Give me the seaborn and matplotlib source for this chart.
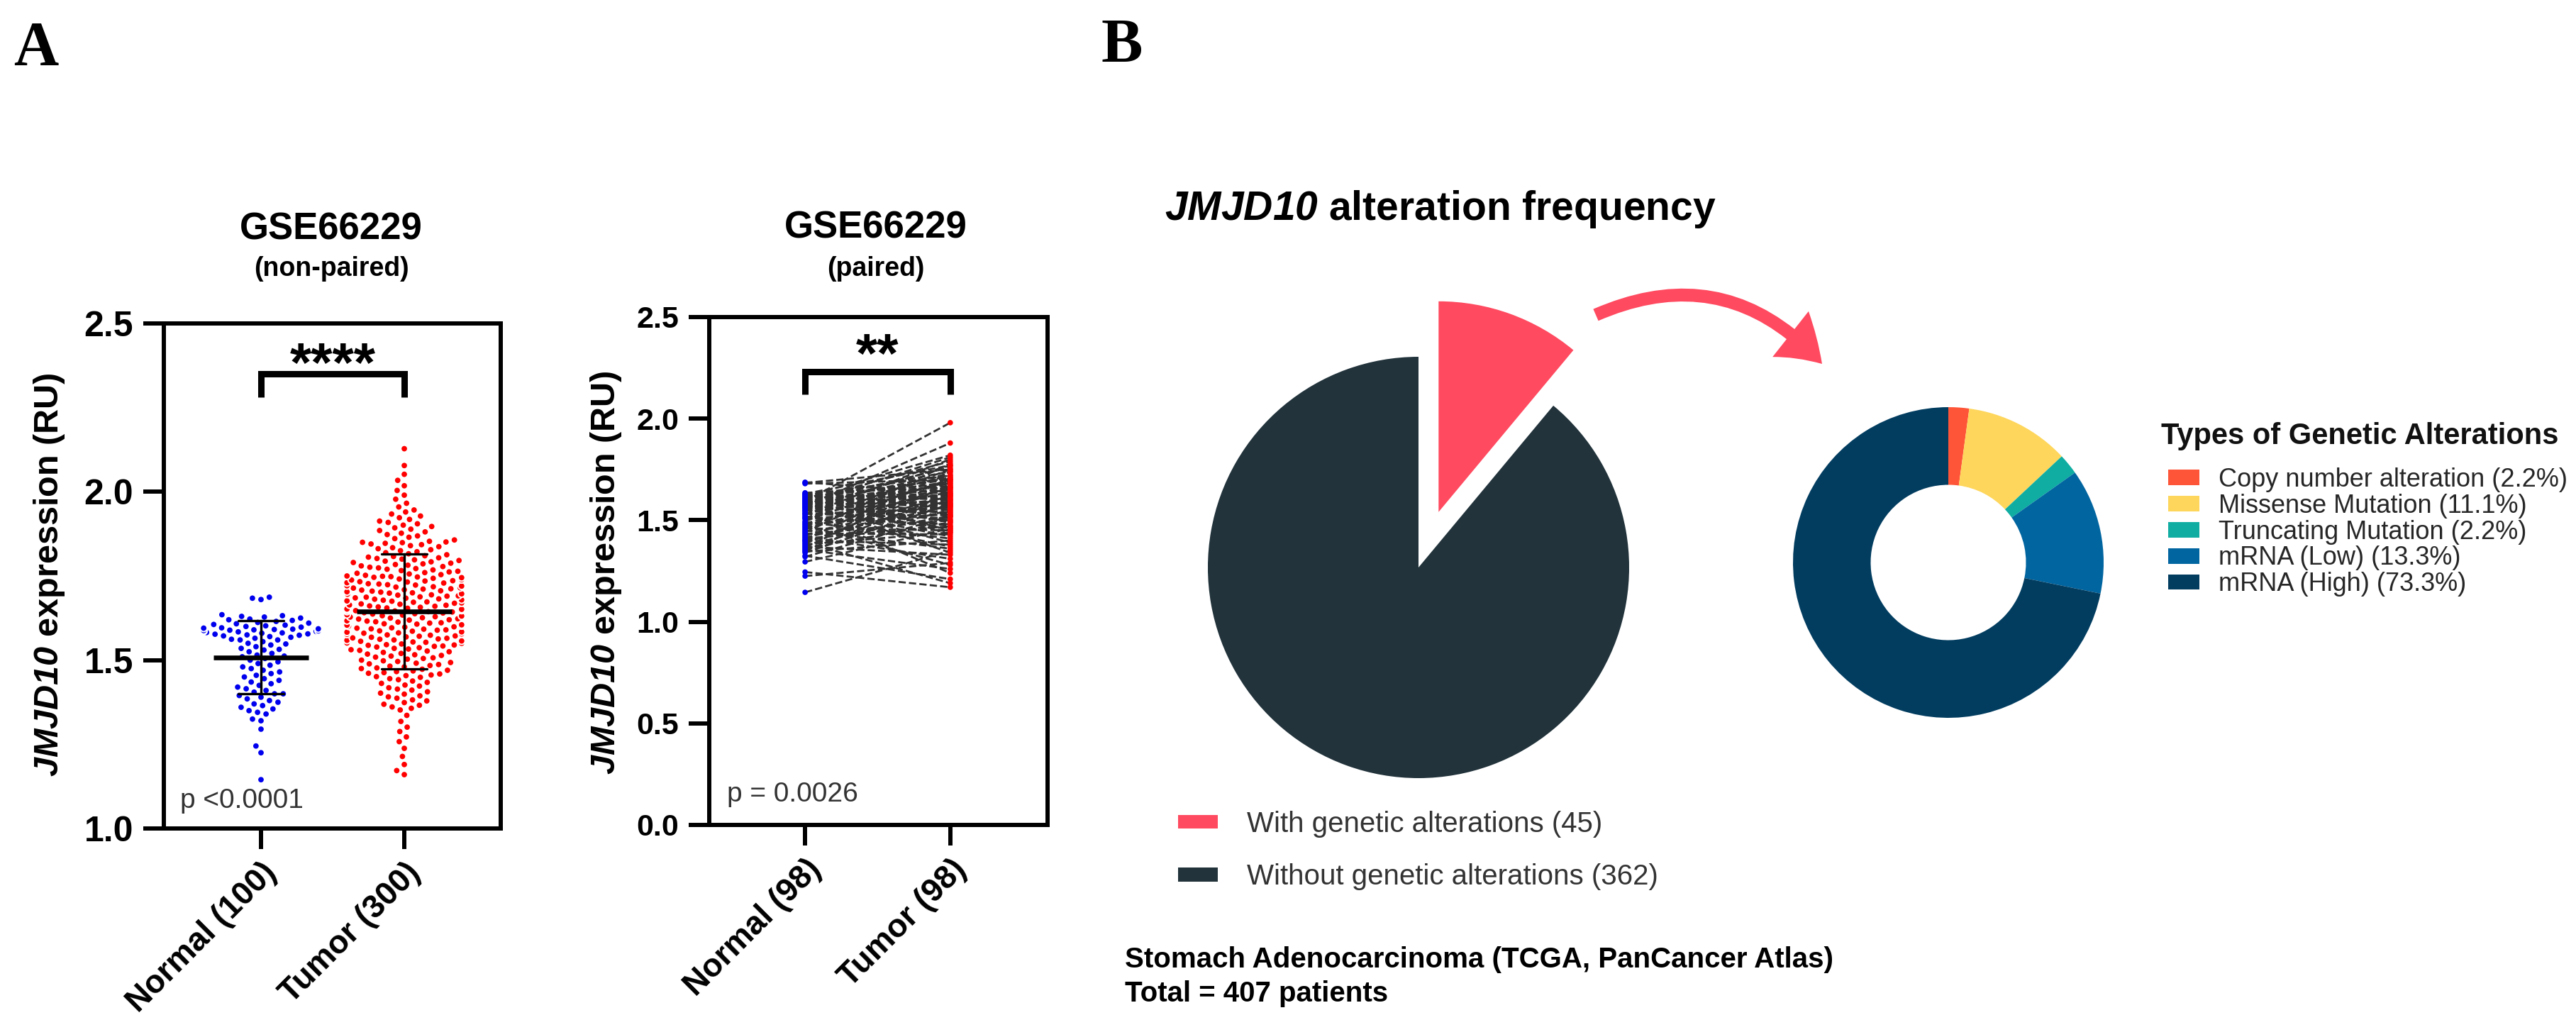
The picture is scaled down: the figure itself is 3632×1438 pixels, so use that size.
import numpy as np
import pandas as pd
import matplotlib
matplotlib.use("Agg")
import matplotlib.pyplot as plt
from matplotlib.patches import FancyArrowPatch
import seaborn as sns

sns.set_style("ticks")
plt.rcParams['font.family'] = ['Liberation Sans', 'DejaVu Sans']
plt.rcParams['mathtext.fontset'] = 'custom'
plt.rcParams['mathtext.it'] = 'Liberation Sans:italic:bold'
plt.rcParams['mathtext.rm'] = 'Liberation Sans:italic:bold'
plt.rcParams['text.color'] = 'black'
plt.rcParams['axes.labelcolor'] = 'black'
plt.rcParams['xtick.color'] = 'black'
plt.rcParams['ytick.color'] = 'black'

# ---------------- data ----------------
unpaired_groups = ['Normal (100)', 'Tumor (300)']
paired_groups = ['Normal (98)', 'Tumor (98)']

normal_unpaired = [
    1.145, 1.225, 1.245, 1.295, 1.32, 1.325, 1.34, 1.345, 1.35, 1.355,
    1.36, 1.365, 1.37, 1.375, 1.38, 1.385, 1.39, 1.395, 1.40, 1.40,
    1.405, 1.41, 1.415, 1.42, 1.425, 1.43, 1.435, 1.44, 1.445, 1.45,
    1.455, 1.46, 1.465, 1.47, 1.475, 1.48, 1.485, 1.49, 1.495, 1.50,
    1.505, 1.51, 1.512, 1.515, 1.52, 1.525, 1.53, 1.532, 1.535, 1.54,
    1.545, 1.548, 1.55, 1.555, 1.56, 1.56, 1.562, 1.565, 1.568, 1.57,
    1.572, 1.574, 1.575, 1.577, 1.578, 1.58, 1.581, 1.582, 1.584, 1.585,
    1.586, 1.587, 1.588, 1.589, 1.59, 1.591, 1.592, 1.593, 1.595, 1.596,
    1.598, 1.60, 1.602, 1.604, 1.606, 1.608, 1.61, 1.612, 1.615, 1.618,
    1.62, 1.622, 1.625, 1.628, 1.63, 1.632, 1.635, 1.68, 1.684, 1.687,
]

tumor_unpaired = [
    1.160, 1.172, 1.190, 1.214, 1.238, 1.258, 1.272, 1.288, 1.301, 1.318, 1.336,
    1.352, 1.357, 1.361, 1.366, 1.369, 1.374, 1.379, 1.382, 1.387, 1.391,
    1.394, 1.399, 1.402, 1.406, 1.411, 1.414, 1.418, 1.423, 1.426, 1.431,
    1.434, 1.438, 1.442, 1.445, 1.449,
    1.451, 1.454, 1.456, 1.459, 1.461, 1.463, 1.466, 1.468, 1.470, 1.473,
    1.475, 1.477, 1.480, 1.482, 1.484, 1.487, 1.489, 1.491, 1.493, 1.496,
    1.498, 1.500, 1.503, 1.505, 1.507, 1.509, 1.512, 1.514, 1.516, 1.518,
    1.520, 1.523, 1.525, 1.527, 1.529, 1.531, 1.533, 1.535, 1.537, 1.539,
    1.541, 1.542, 1.544, 1.545, 1.546, 1.547, 1.548, 1.549, 1.550,
    1.551, 1.553, 1.554, 1.556, 1.557, 1.559, 1.560, 1.562, 1.563, 1.565,
    1.566, 1.568, 1.569, 1.571, 1.572, 1.574, 1.575, 1.577, 1.578, 1.580,
    1.581, 1.583, 1.584, 1.586, 1.587, 1.589, 1.590, 1.592, 1.593, 1.595,
    1.596, 1.598, 1.599, 1.601, 1.602, 1.604, 1.605, 1.607, 1.608, 1.610,
    1.611, 1.613, 1.614, 1.616, 1.617, 1.619, 1.620, 1.622, 1.623, 1.625,
    1.626, 1.628, 1.629, 1.631, 1.632, 1.634, 1.635, 1.637, 1.638, 1.640,
    1.641, 1.643, 1.644, 1.645, 1.646, 1.647, 1.648, 1.649, 1.650,
    1.651, 1.652, 1.654, 1.655, 1.657, 1.658, 1.660, 1.661, 1.663, 1.664,
    1.666, 1.667, 1.669, 1.670, 1.672, 1.673, 1.675, 1.676, 1.678, 1.679,
    1.681, 1.682, 1.684, 1.685, 1.687, 1.688, 1.690, 1.691, 1.693, 1.694,
    1.696, 1.697, 1.699, 1.700, 1.702, 1.703, 1.705, 1.706, 1.708, 1.709,
    1.711, 1.712, 1.714, 1.715, 1.717, 1.718, 1.720, 1.721, 1.723, 1.724,
    1.726, 1.727, 1.729, 1.730, 1.732, 1.733, 1.735, 1.736, 1.738, 1.739,
    1.741, 1.743, 1.745, 1.746, 1.747, 1.748, 1.749, 1.750,
    1.752, 1.754, 1.756, 1.758, 1.760, 1.762, 1.764, 1.766, 1.768, 1.770,
    1.772, 1.774, 1.776, 1.778, 1.780, 1.782, 1.784, 1.786, 1.788, 1.790,
    1.792, 1.794, 1.796, 1.798, 1.800, 1.802, 1.804, 1.806, 1.808, 1.810,
    1.813, 1.816, 1.819, 1.822, 1.825, 1.828, 1.831, 1.834, 1.837, 1.840,
    1.843, 1.845, 1.847, 1.849, 1.850, 1.851,
    1.853, 1.857, 1.861, 1.865, 1.869, 1.873, 1.877, 1.881, 1.885, 1.889,
    1.893, 1.897, 1.901, 1.905, 1.909, 1.913, 1.918, 1.923, 1.928, 1.934,
    1.940, 1.946,
    1.955, 1.966, 1.978, 1.990, 2.004, 2.018, 2.034, 2.052, 2.078, 2.128,
]

normal_paired = [
    1.145, 1.225, 1.245, 1.295, 1.32, 1.325, 1.34, 1.345, 1.35, 1.355,
    1.36, 1.365, 1.37, 1.375, 1.38, 1.385, 1.39, 1.395, 1.40, 1.40,
    1.405, 1.41, 1.415, 1.42, 1.425, 1.43, 1.435, 1.44, 1.445, 1.45,
    1.455, 1.46, 1.465, 1.47, 1.475, 1.48, 1.485, 1.49, 1.495, 1.505,
    1.51, 1.512, 1.515, 1.52, 1.525, 1.53, 1.532, 1.535, 1.54, 1.545,
    1.548, 1.55, 1.555, 1.56, 1.56, 1.562, 1.565, 1.568, 1.57, 1.572,
    1.574, 1.575, 1.577, 1.578, 1.58, 1.581, 1.582, 1.584, 1.585, 1.586,
    1.587, 1.588, 1.589, 1.59, 1.591, 1.592, 1.593, 1.595, 1.596, 1.598,
    1.602, 1.604, 1.606, 1.608, 1.61, 1.612, 1.615, 1.618, 1.62, 1.622,
    1.625, 1.628, 1.63, 1.632, 1.635, 1.68, 1.684, 1.687,
]

tumor_paired = [
    1.35, 1.29, 1.17, 1.46, 1.52, 1.21, 1.58, 1.40, 1.63, 1.26,
    1.49, 1.71, 1.33, 1.55, 1.44, 1.67, 1.19, 1.60, 1.38, 1.52,
    1.74, 1.47, 1.57, 1.31, 1.62, 1.50, 1.43, 1.78, 1.54, 1.36,
    1.66, 1.45, 1.59, 1.70, 1.28, 1.53, 1.64, 1.41, 1.75, 1.57,
    1.48, 1.69, 1.61, 1.37, 1.80, 1.56, 1.51, 1.65, 1.24, 1.72,
    1.60, 1.46, 1.77, 1.54, 1.63, 1.42, 1.68, 1.58, 1.88, 1.50,
    1.66, 1.39, 1.73, 1.62, 1.55, 1.81, 1.47, 1.69, 1.59, 1.64,
    1.34, 1.76, 1.57, 1.71, 1.52, 1.67, 1.98, 1.61, 1.44, 1.79,
    1.65, 1.56, 1.74, 1.49, 1.70, 1.62, 1.82, 1.58, 1.68, 1.53,
    1.72, 1.60, 1.77, 1.45, 1.66, 1.70, 1.75, 1.63,
]

pie_names = ['With genetic alterations', 'Without genetic alterations']
pie_counts = [45, 362]

alt_names = ['Copy number alteration', 'Missense Mutation', 'Truncating Mutation',
             'mRNA (Low)', 'mRNA (High)']
alt_pct = [2.2, 11.1, 2.2, 13.3, 73.3]

# ---------------- layout helpers ----------------
W, H = 3632, 1438


def fx(px):
    return px / W


def fy(py):
    return 1 - py / H


def box(l, t, r, b):
    return [l / W, 1 - b / H, (r - l) / W, (b - t) / H]


def style_axis(ax, groups, ylim, yticks, ysize, xlim):
    ax.set_xlim(*xlim)
    ax.set_ylim(*ylim)
    ax.set_xticks([0, 1])
    ax.set_xticklabels(groups, rotation=45, ha='right', rotation_mode='anchor',
                       fontweight='bold', fontsize=33)
    ax.set_yticks(yticks)
    ax.set_yticklabels([f'{t:.1f}' for t in yticks], fontweight='bold', fontsize=ysize)
    for s in ax.spines.values():
        s.set_visible(True)
        s.set_linewidth(4.3)
        s.set_color('black')
    ax.tick_params(axis='both', length=21, width=4.3, color='black', direction='out')
    ax.tick_params(axis='y', pad=10)
    ax.tick_params(axis='x', pad=8)
    ax.set_xlabel('')
    ax.set_ylabel(r'$\mathrm{JMJD10}$ expression (RU)', fontsize=35,
                  fontweight='bold', va='center')


fig = plt.figure(figsize=(W / 100, H / 100), dpi=100)
fig.patch.set_facecolor('white')

# ---------------- panel A, non-paired ----------------
df1 = pd.DataFrame({
    'group': [unpaired_groups[0]] * len(normal_unpaired) + [unpaired_groups[1]] * len(tumor_unpaired),
    'value': normal_unpaired + tumor_unpaired,
})
ax1 = fig.add_axes(box(231, 456, 706, 1168))
sns.swarmplot(data=df1, x='group', y='value', hue='group', palette=['#0000ee', '#ff0000'],
              size=7, linewidth=1.4, edgecolor='white', legend=False, ax=ax1, zorder=1)
sns.pointplot(data=df1, x='group', y='value', errorbar='sd', color='black',
              marker='_', markersize=96, markeredgewidth=4.8, linestyle='none',
              capsize=0.32, err_kws={'linewidth': 2.4}, ax=ax1)
style_axis(ax1, unpaired_groups, (1.0, 2.5), [1.0, 1.5, 2.0, 2.5], 36, (-0.678, 1.673))
ax1.yaxis.set_label_coords(-0.341, 0.503)
ax1.plot([0, 0, 1, 1], [2.28, 2.35, 2.35, 2.28], color='black', lw=6.5,
         solid_joinstyle='miter', solid_capstyle='butt')
ax1.text(0.5, 2.327, '****', ha='center', va='baseline', fontsize=56, fontweight='bold')
ax1.text(-0.564, 1.082, 'p <0.0001', ha='left', va='center', fontsize=28, color='#333333')
fig.text(fx(467), fy(323), 'GSE66229', ha='center', va='center', fontsize=38, fontweight='bold')
fig.text(fx(467), fy(379), '(non-paired)', ha='center', va='center', fontsize=27, fontweight='bold')

# ---------------- panel A, paired ----------------
n_pairs = len(normal_paired)
df2 = pd.DataFrame({
    'pair': list(range(n_pairs)) * 2,
    'pos': [0] * n_pairs + [1] * n_pairs,
    'group': [paired_groups[0]] * n_pairs + [paired_groups[1]] * n_pairs,
    'value': normal_paired + tumor_paired,
})
ax2 = fig.add_axes(box(1000, 447, 1477, 1163))
sns.lineplot(data=df2, x='pos', y='value', units='pair', estimator=None, color='#333333',
             linewidth=2.0, linestyle='--', legend=False, ax=ax2, zorder=1)
sns.stripplot(data=df2, x='group', y='value', hue='group', palette=['#0000ee', '#ff0000'],
              jitter=False, size=5.5, linewidth=0, legend=False, ax=ax2, zorder=3)
style_axis(ax2, paired_groups, (0.0, 2.5), [0.0, 0.5, 1.0, 1.5, 2.0, 2.5], 31, (-0.66, 1.67))
ax2.yaxis.set_label_coords(-0.306, 0.497)
ax2.plot([0, 0, 1, 1], [2.12, 2.23, 2.23, 2.12], color='black', lw=6.5,
         solid_joinstyle='miter', solid_capstyle='butt')
ax2.text(0.5, 2.228, '**', ha='center', va='baseline', fontsize=56, fontweight='bold')
ax2.text(-0.537, 0.15, 'p = 0.0026', ha='left', va='center', fontsize=28, color='#333333')
fig.text(fx(1235), fy(321), 'GSE66229', ha='center', va='center', fontsize=38, fontweight='bold')
fig.text(fx(1235), fy(379), '(paired)', ha='center', va='center', fontsize=27, fontweight='bold')

# ---------------- panel B ----------------
ax3 = fig.add_axes([1673.3 / W, 311.3 / H, 653.4 / W, 757.35 / H])
wedges, _ = ax3.pie(pie_counts, colors=['#ff4a60', '#22333b'], startangle=90,
                    counterclock=False, explode=[0.28, 0], wedgeprops={'linewidth': 0})
ax3.set_aspect('auto')
ax3.set_xlim(-1.1, 1.1)
ax3.set_ylim(-1.1, 1.45)
ax3.legend(wedges, [f'{n} ({c})' for n, c in zip(pie_names, pie_counts)],
           loc='upper left', bbox_to_anchor=(fx(1661), fy(1143)), bbox_transform=fig.transFigure,
           frameon=False, fontsize=29, handlelength=1.4, handleheight=0.375,
           handletextpad=1.0, labelspacing=0.9, borderpad=0, borderaxespad=0,
           labelcolor='#333333')

ax4 = fig.add_axes(box(2528, 574, 2966, 1012))
d_wedges, _ = ax4.pie(alt_pct, colors=['#fe5538', '#fed65b', '#10ada2', '#0165a0', '#023d60'],
                      startangle=90, counterclock=False,
                      wedgeprops={'width': 0.5, 'linewidth': 0})
ax4.set_aspect('auto')
ax4.set_xlim(-1, 1)
ax4.set_ylim(-1, 1)
ax4.legend(d_wedges, [f'{n} ({p}%)' for n, p in zip(alt_names, alt_pct)],
           loc='upper left', bbox_to_anchor=(fx(3057), fy(659)), bbox_transform=fig.transFigure,
           frameon=False, fontsize=26, handlelength=1.22, handleheight=0.55,
           handletextpad=0.75, labelspacing=0.05, borderpad=0, borderaxespad=0,
           labelcolor='#262626')
fig.text(fx(3047), fy(615), 'Types of Genetic Alterations', ha='left', va='center',
         fontsize=30, fontweight='bold', color='#111111')

arrow = FancyArrowPatch((fx(2250), fy(444)), (fx(2569), fy(513)), transform=fig.transFigure,
                        connectionstyle='arc3,rad=-0.36',
                        arrowstyle='simple,head_length=44,head_width=59,tail_width=13',
                        mutation_scale=1, color='#ff4a60', shrinkA=0, shrinkB=0, lw=0)
fig.add_artist(arrow)

fig.text(fx(1642), fy(310), r'$\mathrm{JMJD10}$ alteration frequency', ha='left',
         va='baseline', fontsize=41, fontweight='bold')
fig.text(fx(1586), fy(1353), 'Stomach Adenocarcinoma (TCGA, PanCancer Atlas)', ha='left',
         va='center', fontsize=29, fontweight='bold')
fig.text(fx(1586), fy(1401), 'Total = 407 patients', ha='left', va='center',
         fontsize=29, fontweight='bold')

# panel letters
fig.text(fx(19), fy(91), 'A', ha='left', va='baseline', fontsize=63, fontweight='bold',
         family='Liberation Serif')
fig.text(fx(1552), fy(87), 'B', ha='left', va='baseline', fontsize=63, fontweight='bold',
         family='Liberation Serif')

fig.savefig('out.png', dpi=100)
